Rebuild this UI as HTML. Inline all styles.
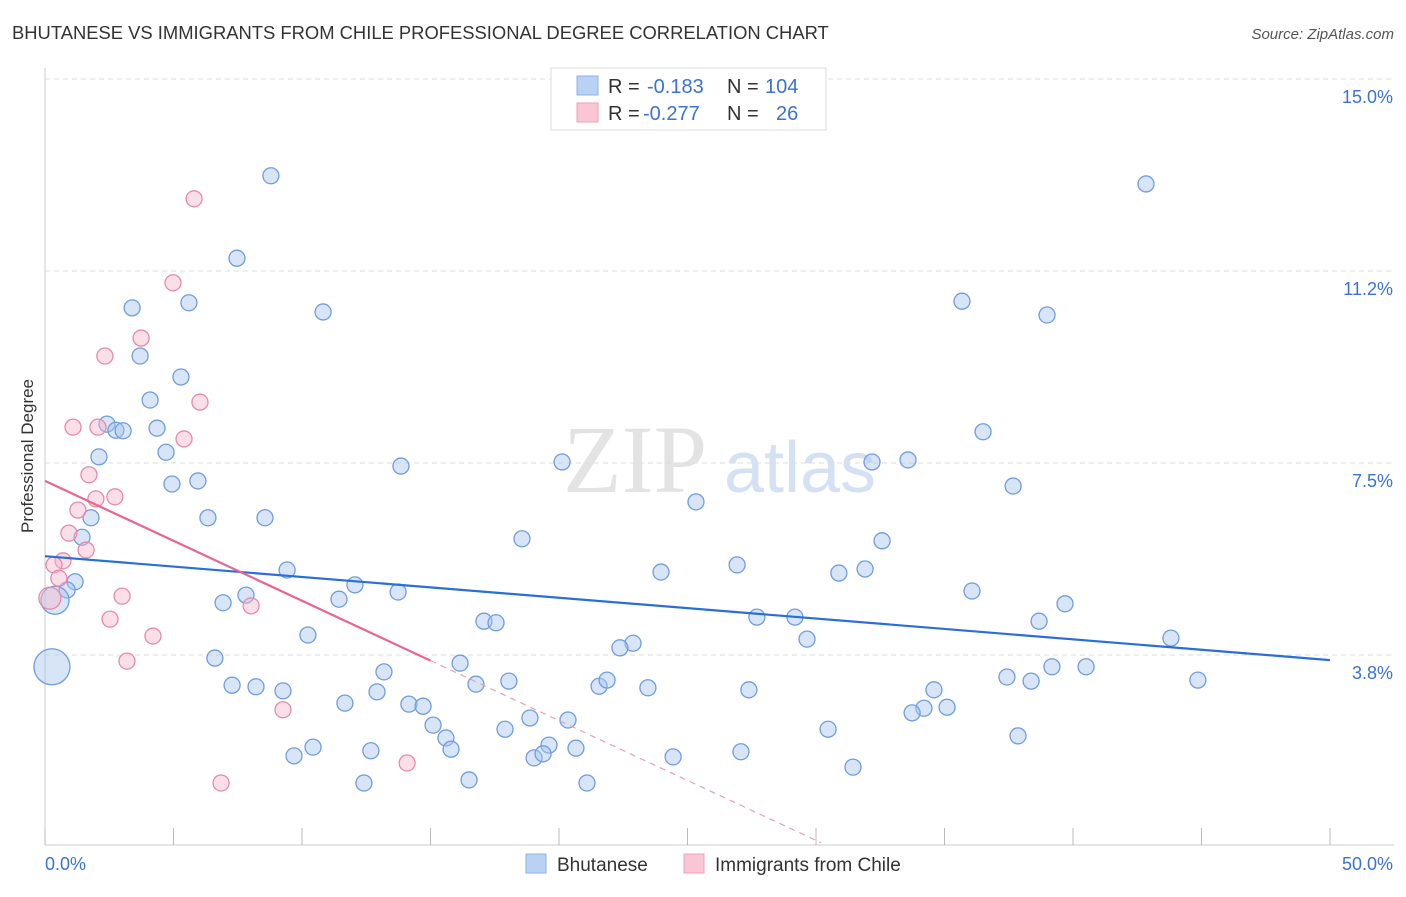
<!DOCTYPE html>
<html><head><meta charset="utf-8"><style>
body{margin:0;background:#fff;font-family:"Liberation Sans",sans-serif;}
svg text{font-family:"Liberation Sans",sans-serif;}
</style></head><body>
<svg id="chart" width="1406" height="892" xmlns="http://www.w3.org/2000/svg">
<text x="12" y="39" font-size="18.4" fill="#333">BHUTANESE VS IMMIGRANTS FROM CHILE PROFESSIONAL DEGREE CORRELATION CHART</text>
<text x="1394" y="39" font-size="15" fill="#555" text-anchor="end" font-style="italic">Source: ZipAtlas.com</text>
<text transform="translate(33,456) rotate(-90)" font-size="17" fill="#333" text-anchor="middle">Professional Degree</text>
<g>
<text x="635" y="492" font-size="96" fill="#e3e3e3" font-family="Liberation Serif" text-anchor="middle" style="font-family:'Liberation Serif',serif">ZIP</text>
<text x="800" y="492" font-size="72" fill="#d4e1f4" text-anchor="middle">atlas</text>
</g>
<g id="grid"></g><g id="axes"></g><g id="pts"></g><g id="lines"></g>
<g>
<rect x="551" y="68" width="275" height="62" fill="#fff" stroke="#ddd"/>
<rect x="577" y="76" width="21" height="19" fill="#b9d1f3" stroke="#8fb3e6"/>
<rect x="577" y="103" width="21" height="19" fill="#f9c6d4" stroke="#efa0b8"/>
<text x="608" y="93" font-size="20" fill="#333">R = </text><text x="647" y="93" font-size="20" fill="#3a72d6">-0.183</text>
<text x="727" y="93" font-size="20" fill="#333">N = </text><text x="765" y="93" font-size="20" fill="#3a72d6">104</text>
<text x="608" y="120" font-size="20" fill="#333">R = </text><text x="643" y="120" font-size="20" fill="#3a72d6">-0.277</text>
<text x="727" y="120" font-size="20" fill="#333">N = </text><text x="776" y="120" font-size="20" fill="#3a72d6">26</text>
</g>
<g>
<rect x="526" y="854" width="20" height="19" fill="#b9d1f3" stroke="#8fb3e6"/>
<text x="557" y="871" font-size="19" fill="#333">Bhutanese</text>
<rect x="684" y="854" width="20" height="19" fill="#f9c6d4" stroke="#efa0b8"/>
<text x="715" y="871" font-size="19" fill="#333">Immigrants from Chile</text>
</g>
</svg>
<script>
const yTicks=[15,11.25,7.5,3.75];
const yTickLabels=["15.0%","11.2%","7.5%","3.8%"];
const xTickVals=[0,5,10,15,20,25,30,35,40,45,50];
const blueX=[8.79,42.84,7.47,3.39,5.60,10.82,35.68,38.99,3.70,5.29,4.09,2.41,2.76,3.04,4.36,36.50,2.10,4.71,4.94,5.95,13.85,20.12,32.18,33.58,37.67,25.33,1.79,6.34,8.56,1.44,18.56,32.57,9.42,23.97,26.93,30.89,31.91,1.17,12.06,0.86,6.93,7.82,11.44,13.74,36.07,39.69,27.70,29.18,10.23,17.08,17.55,29.65,38.68,43.81,22.88,22.37,6.61,16.15,13.19,39.18,40.51,37.43,38.37,44.86,7.28,8.21,9.26,16.77,18.05,21.56,21.87,23.46,27.39,12.92,34.59,11.67,14.16,14.71,34.20,35.10,33.74,15.10,18.87,20.35,17.90,30.47,15.60,37.86,9.69,10.43,12.68,15.80,19.61,20.66,19.03,19.38,24.44,27.08,31.44,12.41,16.50,21.09,0.27,0.39];
const blueY=[13.11,12.95,11.50,10.53,10.63,10.45,10.66,10.39,9.59,9.18,8.73,8.26,8.14,8.13,8.18,8.11,7.62,7.71,7.09,7.15,7.44,7.52,7.52,7.56,7.05,6.74,6.43,6.43,6.43,6.05,6.02,5.98,5.41,5.37,5.51,5.35,5.43,5.18,5.12,5.02,4.77,4.92,4.84,4.98,5.00,4.75,4.49,4.49,4.14,4.41,4.38,4.06,4.41,4.08,3.98,3.89,3.69,3.59,3.42,3.52,3.52,3.32,3.24,3.26,3.16,3.13,3.05,3.18,3.24,3.14,3.26,3.11,3.07,3.03,3.07,2.81,2.79,2.75,2.71,2.73,2.62,2.38,2.52,2.48,2.30,2.30,2.13,2.17,1.78,1.95,1.88,1.91,1.99,1.93,1.74,1.82,1.76,1.86,1.56,1.25,1.31,1.25,3.52,4.82];
const pinkX=[5.80,4.98,3.74,2.33,6.03,1.09,2.06,5.41,1.71,2.72,1.98,1.28,0.93,1.60,0.70,0.35,0.54,3.00,0.19,2.53,8.02,4.20,3.19,9.26,14.09,6.85];
const pinkY=[12.66,11.02,9.94,9.59,8.69,8.20,8.20,7.97,7.27,6.84,6.80,6.58,6.13,5.80,5.59,5.51,5.25,4.90,4.86,4.45,4.71,4.12,3.63,2.68,1.64,1.25];
const blueTrend=[5.68,3.65];
const pinkTrend=[7.15,-0.234];
const NS="http://www.w3.org/2000/svg";
const X=v=>45+v*25.7, Y=v=>847-v*51.2;
function mk(parent,tag,attrs){const e=document.createElementNS(NS,tag);for(const k in attrs)e.setAttribute(k,attrs[k]);document.getElementById(parent).appendChild(e);return e;}
yTicks.forEach((t,i)=>{
 const l=mk('grid','line',{x1:45,x2:1394,y1:Y(t),y2:Y(t),stroke:'#ddd','stroke-dasharray':'5,4'});
 
 
 const tx=mk('axes','text',{x:1393,y:Y(t)+24,'font-size':18,fill:'#3a72d6','text-anchor':'end'});
 tx.textContent=yTickLabels[i];
 
 
});
const ax=mk('axes','line',{x1:45,x2:45,y1:68,y2:845,stroke:'#ccc'});


const bx=mk('axes','line',{x1:45,x2:1394,y1:845,y2:845,stroke:'#ccc'});


xTickVals.forEach(v=>{const t=mk('axes','line',{x1:X(v),x2:X(v),y1:828,y2:845,stroke:'#bbb'});
 
 });
[[0,'0.0%','start',45],[50,'50.0%','end',1393]].forEach(a=>{const t=mk('axes','text',{x:a[3],y:870,'font-size':18,fill:'#3a72d6','text-anchor':a[2]});t.textContent=a[1];
 
 });
function dot(x,y,fill,stroke,r,name){const c=mk('pts','circle',{cx:X(x),cy:Y(y),r:r,fill:fill,'fill-opacity':0.45,stroke:stroke,'stroke-width':1.3});
 
 }
blueX.forEach((x,i)=>{const n=blueX.length;dot(x,blueY[i],'#a9c6ee','#6f9ddf',i==n-2?18:(i==n-1?14:8),'bhutanese-point');});
pinkX.forEach((x,i)=>dot(x,pinkY[i],'#f5b9cb','#e88aa8',i==18?11:8,'chile-point'));
const bl=mk('lines','line',{x1:X(0),y1:Y(blueTrend[0]),x2:X(50),y2:Y(blueTrend[1]),stroke:'#2a6fd6','stroke-width':2.2});


const pe=(x)=>pinkTrend[0]+pinkTrend[1]*x;
const pl=mk('lines','line',{x1:X(0),y1:Y(pe(0)),x2:X(15),y2:Y(pe(15)),stroke:'#e8668f','stroke-width':2.2});


const pd=mk('lines','line',{x1:X(15),y1:Y(pe(15)),x2:X(30.2),y2:Y(pe(30.2)),stroke:'#e8a0b6','stroke-width':1.2,'stroke-dasharray':'6,5'});


</script>
</body></html>
